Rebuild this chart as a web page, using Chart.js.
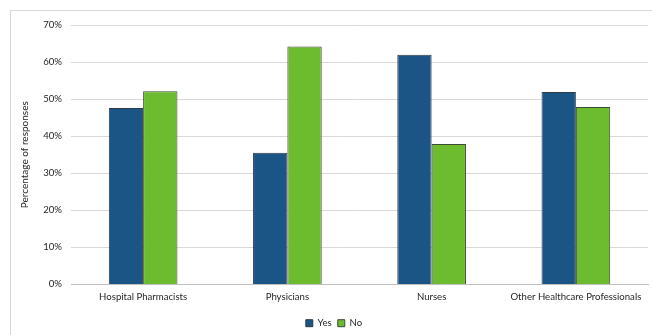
<!DOCTYPE html>
<html>
<head>
<meta charset="utf-8">
<script src="https://cdn.jsdelivr.net/npm/chart.js@4/dist/chart.umd.min.js"></script>
<style>
  html, body { margin: 0; padding: 0; background: #ffffff; }
  #wrap { position: relative; width: 652px; height: 335px; }
</style>
</head>
<body>
<div id="wrap"><canvas id="c" width="652" height="335"></canvas></div>
<script>
// Survey responses by professional group
const categories = ['Hospital Pharmacists', 'Physicians', 'Nurses', 'Other Healthcare Professionals'];
const yesValues = [47.6, 35.5, 62.0, 51.9];
const noValues = [52.1, 64.2, 37.9, 47.9];
const yTicks = [0, 10, 20, 30, 40, 50, 60, 70];

const FONT = 'Lato, "Liberation Sans", sans-serif';
const TEXT = '#262626';

// Light frame around the whole chart; nudge the legend a little lower and right
const framePlugin = {
  id: 'frame',
  afterLayout(chart) {
    const lg = chart.legend;
    if (lg) {
      lg.top += 3;
      lg.bottom += 3;
      lg.left += 10;
      lg.right += 10;
    }
  },
  afterDraw(chart) {
    const ctx = chart.ctx;
    ctx.save();
    ctx.strokeStyle = '#d9d9d9';
    ctx.lineWidth = 1;
    ctx.strokeRect(10.5, 10.5, chart.width + 10, chart.height + 10);
    ctx.restore();
  }
};

new Chart(document.getElementById('c'), {
  type: 'bar',
  data: {
    labels: categories,
    datasets: [
      { label: 'Yes', data: yesValues, backgroundColor: '#1b5585', borderColor: '#2e3b48', borderWidth: 1 },
      { label: 'No', data: noValues, backgroundColor: '#6dbb2f', borderColor: '#3d4a36', borderWidth: 1 }
    ]
  },
  options: {
    responsive: false,
    animation: false,
    devicePixelRatio: 1,
    layout: { padding: { left: 0, right: 4, top: 25, bottom: 0 } },
    datasets: { bar: { categoryPercentage: 0.476, barPercentage: 1.0 } },
    plugins: {
      legend: {
        position: 'bottom',
        labels: {
          boxWidth: 7, boxHeight: 7, padding: 6,
          color: TEXT,
          font: { family: FONT, size: 9.6 }
        }
      },
      tooltip: { enabled: false }
    },
    scales: {
      x: {
        grid: { display: false, drawTicks: false },
        border: { color: '#bfbfbf' },
        ticks: { color: TEXT, font: { family: FONT, size: 9.6 }, padding: 7, maxRotation: 0, autoSkip: false },
        afterFit(scale) { scale.height = 25; }
      },
      y: {
        min: 0, max: 70,
        afterBuildTicks(scale) { scale.ticks = yTicks.map(v => ({ value: v })); },
        grid: { color: '#d9d9d9', drawTicks: false },
        border: { display: false },
        ticks: {
          color: TEXT, font: { family: FONT, size: 9.6 }, padding: 9,
          callback: v => v + '%'
        },
        title: {
          display: true, text: 'Percentage of responses',
          color: TEXT, font: { family: FONT, size: 10 }, padding: { top: 19, bottom: 0 }
        },
        afterFit(scale) { scale.width = 71; }
      }
    }
  },
  plugins: [framePlugin]
});
</script>
</body>
</html>
